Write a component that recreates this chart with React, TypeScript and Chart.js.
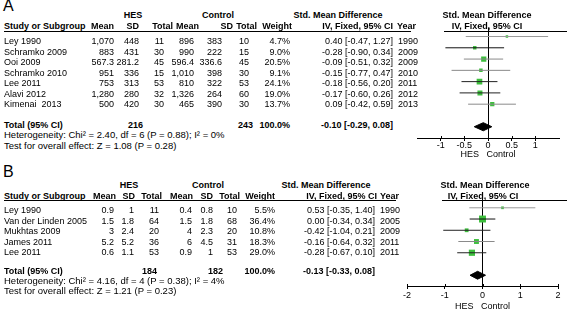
import React, { useEffect, useRef } from 'react';
import { Chart, registerables } from 'chart.js';

Chart.register(...registerables);

const FONT = '"Liberation Sans", Arial, sans-serif';
const GREEN = '#3dbf3d';

// ---------- Panel A data ----------
const studiesA = ['Ley 1990', 'Schramko 2009', 'Ooi 2009', 'Schramko 2010', 'Lee 2011', 'Alavi 2012', 'Kimenai  2013'];
const hesMeanA = ['1,070', '883', '567.3', '951', '753', '1,280', '500'];
const hesSdA = ['448', '431', '281.2', '336', '313', '280', '420'];
const hesNA = [11, 30, 45, 15, 53, 32, 30];
const ctlMeanA = ['896', '990', '596.4', '1,010', '810', '1,326', '465'];
const ctlSdA = ['383', '222', '336.6', '398', '322', '264', '390'];
const ctlNA = [10, 15, 45, 30, 53, 60, 30];
const weightA = [4.7, 9.0, 20.5, 9.1, 24.1, 19.0, 13.7];
const smdA = [0.4, -0.28, -0.09, -0.15, -0.18, -0.17, 0.09];
const loA = [-0.47, -0.9, -0.51, -0.77, -0.56, -0.6, -0.42];
const hiA = [1.27, 0.34, 0.32, 0.47, 0.2, 0.26, 0.59];
const yearA = [1990, 2009, 2009, 2010, 2011, 2012, 2013];
const ciColorA = ['#9a9a9a', '#111111', '#8a8a8a', '#8a8a8a', '#222222', '#222222', '#8a8a8a'];
const totalA = { est: -0.1, lo: -0.29, hi: 0.08, nH: 216, nC: 243 };
const hetA = 'Heterogeneity: Chi² = 2.40, df = 6 (P = 0.88); I² = 0%';
const testA = 'Test for overall effect: Z = 1.08 (P = 0.28)';
const ticksA = [-1, -0.5, 0, 0.5, 1];

// ---------- Panel B data ----------
const studiesB = ['Ley 1990', 'Van der Linden 2005', 'Mukhtas 2009', 'James 2011', 'Lee 2011'];
const hesMeanB = ['0.9', '1.5', '3', '5.2', '0.6'];
const hesSdB = ['1', '1.8', '2.4', '5.2', '1.1'];
const hesNB = [11, 64, 20, 36, 53];
const ctlMeanB = ['0.4', '1.5', '4', '6', '0.9'];
const ctlSdB = ['0.8', '1.8', '2.3', '4.5', '1'];
const ctlNB = [10, 68, 20, 31, 53];
const weightB = [5.5, 36.4, 10.8, 18.3, 29.0];
const smdB = [0.53, 0.0, -0.42, -0.16, -0.28];
const loB = [-0.35, -0.34, -1.04, -0.64, -0.67];
const hiB = [1.4, 0.34, 0.21, 0.32, 0.1];
const yearB = [1990, 2005, 2009, 2011, 2011];
const ciColorB = ['#9a9a9a', '#111111', '#222222', '#8a8a8a', '#222222'];
const totalB = { est: -0.13, lo: -0.33, hi: 0.08, nH: 184, nC: 182 };
const hetB = 'Heterogeneity: Chi² = 4.16, df = 4 (P = 0.38); I² = 4%';
const testB = 'Test for overall effect: Z = 1.21 (P = 0.23)';
const ticksB = [-2, -1, 0, 1, 2];

const fmt2 = (v: number) => v.toFixed(2);
const ciText = (e: number, l: number, h: number) => `${fmt2(e)} [${fmt2(l)}, ${fmt2(h)}]`;

type TxtProps = { x: number; y: number; t: string | number; a?: 'l' | 'r' | 'c'; b?: boolean; s?: number };

function T({ x, y, t, a = 'l', b = false, s = 9 }: TxtProps) {
  const style: React.CSSProperties = {
    position: 'absolute',
    top: y - 6,
    height: 12,
    lineHeight: '12px',
    fontSize: s,
    fontWeight: b ? 'bold' : 'normal',
    whiteSpace: 'pre',
    fontFamily: FONT,
    color: '#000',
  };
  if (a === 'l') style.left = x;
  else if (a === 'r') style.right = 567 - x;
  else {
    style.left = x;
    style.transform = 'translateX(-50%)';
  }
  return <div style={style}>{t}</div>;
}

function HLine({ x1, x2, y }: { x1: number; x2: number; y: number }) {
  return <div style={{ position: 'absolute', left: x1, top: y, width: x2 - x1, height: 1, background: '#000' }} />;
}

const tickUp = {
  id: 'tickUp',
  afterDraw(chart: any) {
    const s = chart.scales.x;
    const ctx = chart.ctx;
    ctx.save();
    ctx.strokeStyle = '#000';
    ctx.lineWidth = 1;
    s.ticks.forEach((t: any) => {
      const px = Math.round(s.getPixelForValue(t.value)) + 0.5;
      ctx.beginPath();
      ctx.moveTo(px, s.top - 2);
      ctx.lineTo(px, s.top);
      ctx.stroke();
    });
    ctx.restore();
  },
};

type ForestProps = {
  left: number; top: number; width: number; height: number;
  est: number[]; lo: number[]; hi: number[]; w: number[]; colors: string[];
  total: { est: number; lo: number; hi: number };
  totalRow: number;
  xMin: number; xMax: number; ticks: number[];
  yMin: number; yMax: number;
  pad: { left: number; right: number; top: number; bottom: number };
  tickPad: number;
  dH: number;
};

function Forest(p: ForestProps) {
  const ref = useRef<HTMLCanvasElement | null>(null);
  useEffect(() => {
    if (!ref.current) return;
    const datasets: any[] = [];
    p.est.forEach((_, i) => {
      datasets.push({
        data: [{ x: p.lo[i], y: i }, { x: p.hi[i], y: i }],
        showLine: true,
        borderColor: p.colors[i],
        borderWidth: 1,
        pointRadius: 0,
      });
    });
    datasets.push({
      data: p.est.map((e, i) => ({ x: e, y: i })),
      pointStyle: 'rect',
      pointRadius: p.w.map((wt) => (1.15 * Math.sqrt(wt)) / 1.414),
      backgroundColor: GREEN,
      borderWidth: 0,
    });
    const t = p.totalRow;
    datasets.push({
      data: [
        { x: p.total.lo, y: t },
        { x: p.total.est, y: t - p.dH },
        { x: p.total.hi, y: t },
        { x: p.total.est, y: t + p.dH },
        { x: p.total.lo, y: t },
      ],
      showLine: true,
      fill: 'shape',
      backgroundColor: '#000',
      borderColor: '#000',
      borderWidth: 1,
      pointRadius: 0,
    });
    const chart = new Chart(ref.current, {
      type: 'scatter',
      data: { datasets },
      plugins: [tickUp],
      options: {
        animation: false,
        responsive: false,
        maintainAspectRatio: false,
        events: [],
        layout: { padding: p.pad },
        plugins: { legend: { display: false }, tooltip: { enabled: false }, title: { display: false } },
        scales: {
          x: {
            type: 'linear',
            min: p.xMin,
            max: p.xMax,
            afterBuildTicks: (s: any) => {
              s.ticks = p.ticks.map((v) => ({ value: v }));
            },
            ticks: {
              color: '#000',
              padding: p.tickPad,
              font: { family: FONT, size: 9, lineHeight: 1 },
              callback: (v: any) => String(v),
              maxRotation: 0,
              autoSkip: false,
            },
            grid: {
              color: (ctx: any) => (ctx.tick && ctx.tick.value === 0 ? '#000' : 'rgba(0,0,0,0)'),
              lineWidth: 1,
              tickLength: 3,
              tickColor: '#000',
              drawOnChartArea: true,
              drawTicks: true,
            },
            border: { display: true, color: '#000', width: 1 },
            title: {
              display: true,
              text: 'HES   Control',
              color: '#000',
              font: { family: FONT, size: 9, lineHeight: 1 },
              padding: 0,
            },
          },
          y: {
            type: 'linear',
            display: false,
            min: p.yMin,
            max: p.yMax,
            reverse: true,
          },
        },
      } as any,
    });
    return () => chart.destroy();
  }, []);
  return (
    <canvas
      ref={ref}
      width={p.width}
      height={p.height}
      style={{ position: 'absolute', left: p.left, top: p.top, width: p.width, height: p.height }}
    />
  );
}

export default function App() {
  useEffect(() => {
    document.body.style.margin = '0';
  }, []);

  const rowA = (i: number) => 41 + 10.5 * i;
  const rowB = (i: number) => 210 + 10.5 * i;

  return (
    <div style={{ position: 'relative', width: 567, height: 311, overflow: 'hidden', background: '#fff' }}>
      <Forest
        left={410} top={0} width={157} height={160}
        est={smdA} lo={loA} hi={hiA} w={weightA} colors={ciColorA}
        total={totalA} totalRow={8}
        xMin={-1.5} xMax={1.5} ticks={ticksA}
        yMin={-0.8} yMax={9.0}
        pad={{ left: 7, right: 8, top: 27.5, bottom: 1 }}
        tickPad={0}
        dH={0.36}
      />
      <Forest
        left={400} top={170} width={167} height={141}
        est={smdB} lo={loB} hi={hiB} w={weightB} colors={ciColorB}
        total={totalB} totalRow={6}
        xMin={-2} xMax={2} ticks={ticksB}
        yMin={-0.87} yMax={6.957}
        pad={{ left: 7, right: 9, top: 28, bottom: 0 }}
        tickPad={2}
        dH={0.35}
      />

      {/* Panel A */}
      <T x={3} y={6} t="A" s={16} />
      <T x={133} y={15} t="HES" a="c" b />
      <T x={218} y={15} t="Control" a="c" b />
      <T x={338} y={15} t="Std. Mean Difference" a="c" b />
      <T x={487} y={15} t="Std. Mean Difference" a="c" b />
      <T x={4} y={25.5} t="Study or Subgroup" b />
      <T x={114} y={25.5} t="Mean" a="r" b />
      <T x={139} y={25.5} t="SD" a="r" b />
      <T x={173} y={25.5} t="Total" a="r" b />
      <T x={199} y={25.5} t="Mean" a="r" b />
      <T x={233} y={25.5} t="SD" a="r" b />
      <T x={257} y={25.5} t="Total" a="r" b />
      <T x={292} y={25.5} t="Weight" a="r" b />
      <T x={393} y={25.5} t="IV, Fixed, 95% CI" a="r" b />
      <T x={397} y={25.5} t="Year" b />
      <T x={487} y={25.5} t="IV, Fixed, 95% CI" a="c" b />
      <HLine x1={4} x2={411} y={31} />
      <HLine x1={444} x2={567} y={31} />
      {studiesA.map((s, i) => (
        <React.Fragment key={'a' + i}>
          <T x={4} y={rowA(i)} t={s} />
          <T x={114} y={rowA(i)} t={hesMeanA[i]} a="r" />
          <T x={139} y={rowA(i)} t={hesSdA[i]} a="r" />
          <T x={164} y={rowA(i)} t={hesNA[i]} a="r" />
          <T x={194} y={rowA(i)} t={ctlMeanA[i]} a="r" />
          <T x={222} y={rowA(i)} t={ctlSdA[i]} a="r" />
          <T x={249} y={rowA(i)} t={ctlNA[i]} a="r" />
          <T x={290} y={rowA(i)} t={weightA[i].toFixed(1) + '%'} a="r" />
          <T x={393} y={rowA(i)} t={ciText(smdA[i], loA[i], hiA[i])} a="r" />
          <T x={398} y={rowA(i)} t={yearA[i]} />
        </React.Fragment>
      ))}
      <T x={4} y={124.5} t="Total (95% CI)" b />
      <T x={143} y={124.5} t={totalA.nH} a="r" b />
      <T x={253} y={124.5} t={totalA.nC} a="r" b />
      <T x={290} y={124.5} t="100.0%" a="r" b />
      <T x={393} y={124.5} t={ciText(totalA.est, totalA.lo, totalA.hi)} a="r" b />
      <T x={4} y={135} t={hetA} s={9.5} />
      <T x={4} y={145.5} t={testA} s={9.5} />

      {/* Panel B */}
      <T x={3} y={172} t="B" s={16} />
      <T x={129} y={185} t="HES" a="c" b />
      <T x={208} y={185} t="Control" a="c" b />
      <T x={326} y={185} t="Std. Mean Difference" a="c" b />
      <T x={485} y={185} t="Std. Mean Difference" a="c" b />
      <T x={4} y={195.5} t="Study or Subgroup" b />
      <T x={116} y={195.5} t="Mean" a="r" b />
      <T x={135} y={195.5} t="SD" a="r" b />
      <T x={162} y={195.5} t="Total" a="r" b />
      <T x={193} y={195.5} t="Mean" a="r" b />
      <T x={213} y={195.5} t="SD" a="r" b />
      <T x={240} y={195.5} t="Total" a="r" b />
      <T x={275} y={195.5} t="Weight" a="r" b />
      <T x={377} y={195.5} t="IV, Fixed, 95% CI" a="r" b />
      <T x={380} y={195.5} t="Year" b />
      <T x={483} y={195.5} t="IV, Fixed, 95% CI" a="c" b />
      <HLine x1={4} x2={396} y={200} />
      <HLine x1={442} x2={567} y={200} />
      {studiesB.map((s, i) => (
        <React.Fragment key={'b' + i}>
          <T x={4} y={rowB(i)} t={s} />
          <T x={114} y={rowB(i)} t={hesMeanB[i]} a="r" />
          <T x={134} y={rowB(i)} t={hesSdB[i]} a="r" />
          <T x={159} y={rowB(i)} t={hesNB[i]} a="r" />
          <T x={192} y={rowB(i)} t={ctlMeanB[i]} a="r" />
          <T x={213} y={rowB(i)} t={ctlSdB[i]} a="r" />
          <T x={237} y={rowB(i)} t={ctlNB[i]} a="r" />
          <T x={275} y={rowB(i)} t={weightB[i].toFixed(1) + '%'} a="r" />
          <T x={375} y={rowB(i)} t={ciText(smdB[i], loB[i], hiB[i])} a="r" />
          <T x={380} y={rowB(i)} t={yearB[i]} />
        </React.Fragment>
      ))}
      <T x={4} y={270.5} t="Total (95% CI)" b />
      <T x={157} y={270.5} t={totalB.nH} a="r" b />
      <T x={223} y={270.5} t={totalB.nC} a="r" b />
      <T x={275} y={270.5} t="100.0%" a="r" b />
      <T x={375} y={270.5} t={ciText(totalB.est, totalB.lo, totalB.hi)} a="r" b />
      <T x={4} y={280.5} t={hetB} s={9.5} />
      <T x={4} y={290.5} t={testB} s={9.5} />
    </div>
  );
}
